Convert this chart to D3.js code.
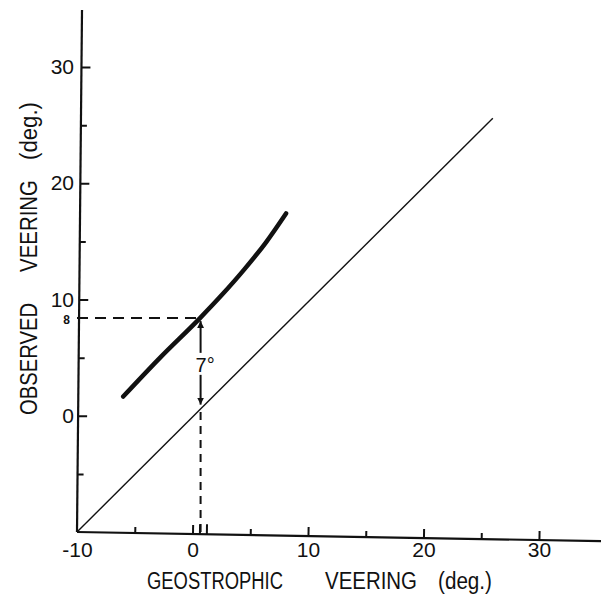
<!DOCTYPE html>
<html>
<head>
<meta charset="utf-8">
<script src="https://cdn.jsdelivr.net/npm/d3@7/dist/d3.min.js"></script>
<style>
  body { margin: 0; background: #fff; }
  text { font-family: "Liberation Sans", Arial, sans-serif; fill: #111; }
</style>
</head>
<body>
<div id="chart"></div>
<script>
// tick values
var xMajor = [-10, 0, 10, 20, 30]
var xMinor = [-5, 5, 15, 25]
var yMajor = [0, 10, 20, 30]
var yMinor = [-5, 5, 15, 25]
var handTicks = [0.6, 1.2]

// observed vs geostrophic veering (thick curve)
var curveX = [-6.0, -2.8, 0.65, 2.55, 4.45, 6.35, 8.1]
var curveY = [1.65, 5.0, 8.4, 10.4, 12.55, 14.9, 17.4]

// 1:1 reference line
var diagX = [-10, 26]
var diagY = [-10, 25.6]

// marked point
var refX = 0.7
var refY = 8.4
var refLabel = '8'
var gapLabel = '7°'

var xTitle = ['GEOSTROPHIC', 'VEERING', '(deg.)']
var yTitle = ['OBSERVED', 'VEERING', '(deg.)']

var W = 601, H = 597

var svg = d3.select('#chart')
  .append('svg')
  .attr('width', W)
  .attr('height', H)

var x = d3.scaleLinear().domain([-10, 30]).range([77, 539])
var y = d3.scaleLinear().domain([-10, 30]).range([532, 67])
var fmt = d => String(d)  /** plain hyphen for -10 */

var ox = x(-10), oy = y(-10)

/** x axis: line and ticks drawn slightly tilted like the scan */
var gxLine = svg.append('g')
  .attr('transform', 'translate(' + ox + ',' + oy + ') rotate(1) translate(' + (-ox) + ',0)')
gxLine.append('line')
  .attr('x1', ox).attr('x2', 604)
  .attr('stroke', '#111').attr('stroke-width', 2.2)
gxLine.append('g')
  .call(d3.axisBottom(x).tickValues(xMajor.slice(1)).tickSizeInner(-9).tickSizeOuter(0).tickFormat(''))
gxLine.append('g')
  .call(d3.axisBottom(x).tickValues(xMinor).tickSizeInner(-6).tickSizeOuter(0).tickFormat(''))
gxLine.append('g')
  .call(d3.axisBottom(x).tickValues(handTicks).tickSizeInner(-10).tickSizeOuter(0).tickFormat(''))
gxLine.selectAll('.domain').remove()

/** x tick labels (not tilted) */
var gx = svg.append('g')
  .attr('transform', 'translate(0,' + oy + ')')
  .call(d3.axisBottom(x).tickValues(xMajor).tickSize(0).tickPadding(10).tickFormat(fmt))
gx.select('.domain').remove()

/** y axis */
var gyLine = svg.append('g')
  .attr('transform', 'translate(' + ox + ',' + oy + ') rotate(0.55) translate(0,' + (-oy) + ')')
gyLine.append('line')
  .attr('y1', oy).attr('y2', 10)
  .attr('stroke', '#111').attr('stroke-width', 2.2)
gyLine.append('g')
  .call(d3.axisLeft(y).tickValues(yMajor).tickSizeInner(-9).tickSizeOuter(0).tickFormat(''))
gyLine.append('g')
  .call(d3.axisLeft(y).tickValues(yMinor).tickSizeInner(-6).tickSizeOuter(0).tickFormat(''))
gyLine.selectAll('.domain').remove()

var gy = svg.append('g')
  .attr('transform', 'translate(' + (ox + 2) + ',0)')
  .call(d3.axisLeft(y).tickValues(yMajor).tickSize(0).tickPadding(5).tickFormat(fmt))
gy.select('.domain').remove()

svg.selectAll('.tick line').attr('stroke', '#111').attr('stroke-width', 2)
svg.selectAll('.tick text').attr('font-size', 21).attr('fill', '#111')

/** special y label */
svg.append('text')
  .attr('x', ox - 7)
  .attr('y', y(refY) + 2)
  .attr('dy', '0.35em')
  .attr('text-anchor', 'end')
  .attr('font-size', 12)
  .attr('font-weight', 'bold')
  .text(refLabel)

/** diagonal */
svg.append('line')
  .attr('x1', x(diagX[0])).attr('y1', y(diagY[0]))
  .attr('x2', x(diagX[1])).attr('y2', y(diagY[1]))
  .attr('stroke', '#111').attr('stroke-width', 1.4)

/** thick curve */
var curve = d3.line()
  .x((d, i) => x(curveX[i]))
  .y((d, i) => y(curveY[i]))
  .curve(d3.curveMonotoneX)
svg.append('path')
  .attr('d', curve(curveX))
  .attr('fill', 'none')
  .attr('stroke', '#111')
  .attr('stroke-width', 4.5)
  .attr('stroke-linecap', 'round')

/** dashed guides */
svg.append('line')
  .attr('x1', ox).attr('y1', y(refY))
  .attr('x2', x(refX)).attr('y2', y(refY))
  .attr('stroke', '#111').attr('stroke-width', 2)
  .attr('stroke-dasharray', '11,7')
svg.append('line')
  .attr('x1', x(refX)).attr('y1', oy)
  .attr('x2', x(refX)).attr('y2', y(refX) + 4)
  .attr('stroke', '#111').attr('stroke-width', 2)
  .attr('stroke-dasharray', '8,6')

/** 7 degree arrow */
var defs = svg.append('defs')
defs.append('marker')
  .attr('id', 'head')
  .attr('viewBox', '0 0 10 10')
  .attr('refX', 10).attr('refY', 5)
  .attr('markerWidth', 7).attr('markerHeight', 10)
  .attr('markerUnits', 'userSpaceOnUse')
  .attr('orient', 'auto')
  .append('path')
  .attr('d', 'M0,0L10,5L0,10Z')
  .attr('fill', '#111')

var midY = (y(refY) + y(refX)) / 2
svg.append('line')
  .attr('x1', x(refX)).attr('y1', midY - 10)
  .attr('x2', x(refX)).attr('y2', y(refY) + 3)
  .attr('stroke', '#111').attr('stroke-width', 2)
  .attr('marker-end', 'url(#head)')
svg.append('line')
  .attr('x1', x(refX)).attr('y1', midY + 12)
  .attr('x2', x(refX)).attr('y2', y(refX) - 3)
  .attr('stroke', '#111').attr('stroke-width', 2)
  .attr('marker-end', 'url(#head)')
svg.append('text')
  .attr('x', x(refX) - 5)
  .attr('y', midY + 9)
  .attr('font-size', 20)
  .text(gapLabel)

/** axis titles */
var xPos = [147, 325, 438]
var xLen = [136, 92, 54]
svg.selectAll('.xtitle')
  .data(xTitle)
  .enter()
  .append('text')
  .attr('class', 'xtitle')
  .attr('x', (d, i) => xPos[i])
  .attr('y', 589)
  .attr('font-size', 23)
  .attr('textLength', (d, i) => xLen[i])
  .attr('lengthAdjust', 'spacingAndGlyphs')
  .text(d => d)

var yPos = [415, 272, 160]
var yLen = [112, 92, 58]
svg.selectAll('.ytitle')
  .data(yTitle)
  .enter()
  .append('text')
  .attr('class', 'ytitle')
  .attr('transform', (d, i) => 'translate(37,' + yPos[i] + ') rotate(-90)')
  .attr('font-size', 23)
  .attr('textLength', (d, i) => yLen[i])
  .attr('lengthAdjust', 'spacingAndGlyphs')
  .text(d => d)
</script>
</body>
</html>
